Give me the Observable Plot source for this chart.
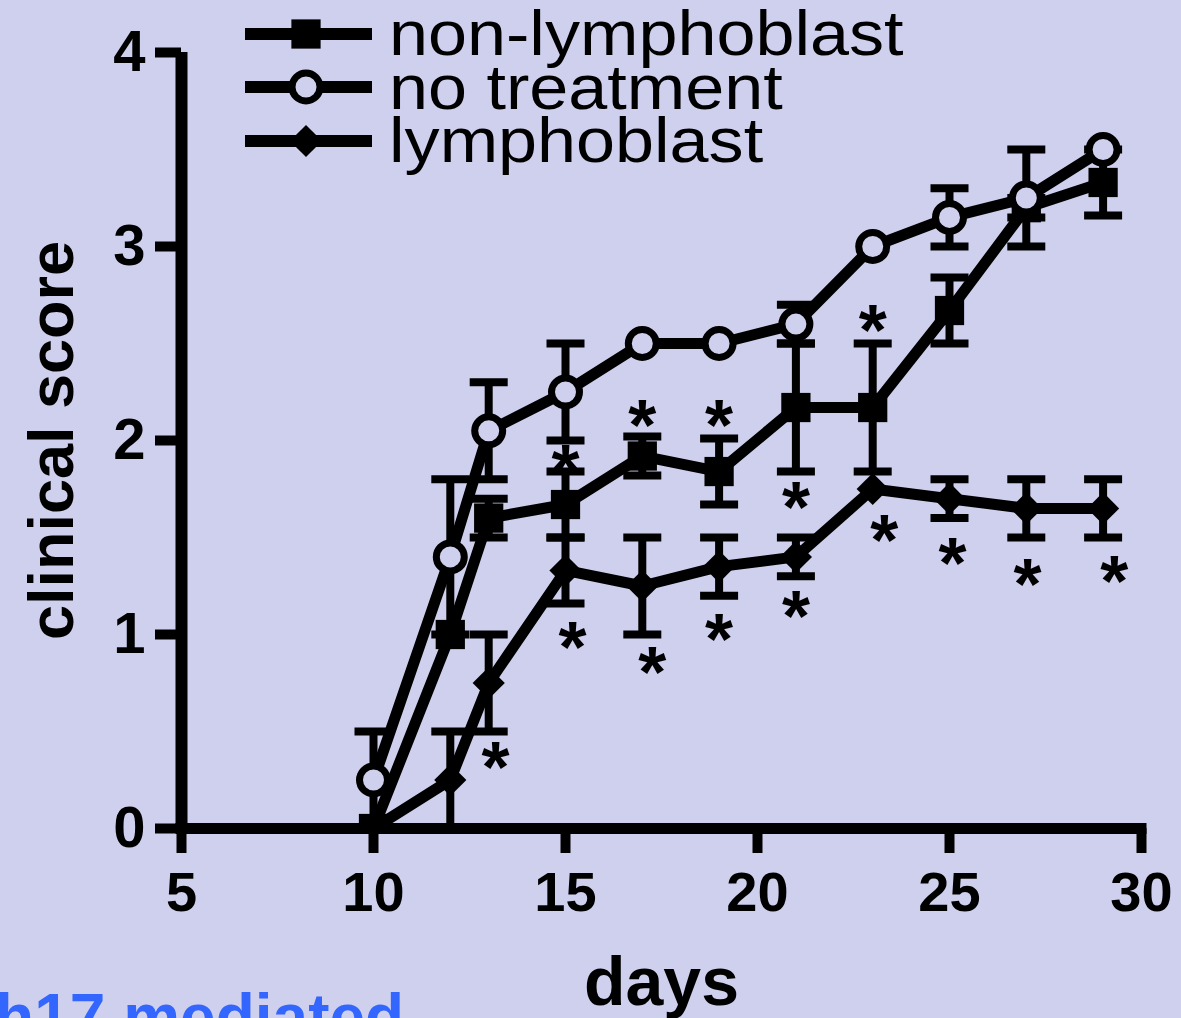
<!DOCTYPE html>
<html>
<head>
<meta charset="utf-8">
<script src="https://cdn.jsdelivr.net/npm/d3@7"></script>
<script src="https://cdn.jsdelivr.net/npm/@observablehq/plot@0.6"></script>
<style>
  html, body { margin: 0; padding: 0; }
  body { width: 1181px; height: 1018px; overflow: hidden; background: #cfd0ee; position: relative;
         font-family: "Liberation Sans", Arial, Helvetica, sans-serif; }
  #chart { position: absolute; left: 0; top: 0; }
  #legend { position: absolute; left: 245px; top: 7px; }
  .row { display: flex; align-items: center; height: 53.5px; }
  .row svg { display: block; flex: none; }
  .row span { display: inline-block; font-size: 63px; line-height: 53.5px; margin-left: 17px; color: #000;
              white-space: nowrap; transform: scaleX(1.113); transform-origin: left center; }
  #note { position: absolute; left: -44px; top: 985px; font-size: 64px; line-height: 64px; font-weight: bold;
          color: #3366ff; white-space: nowrap; }
</style>
</head>
<body>
<div id="chart"></div>
<div id="legend"></div>
<div id="note">Th17 mediated</div>
<script>
const bg = "#cfd0ee";

// Days of scoring
const days = [10, 12, 13, 15, 17, 19, 21, 23, 25, 27, 29];

// Mean clinical score and SEM per group
const nonLymphMean = [0, 1.0, 1.6, 1.67, 1.92, 1.84, 2.17, 2.17, 2.67, 3.2, 3.33];
const nonLymphSem  = [0, 0, 0.1, 0.17, 0.1, 0.17, 0.33, 0.33, 0.17, 0.05, 0.17];

const noTreatMean = [0.25, 1.4, 2.05, 2.25, 2.5, 2.5, 2.6, 3.0, 3.15, 3.25, 3.5];
const noTreatSem  = [0.25, 0.4, 0.25, 0.25, 0, 0, 0.1, 0, 0.15, 0.25, 0];

const lymphMean = [0, 0.25, 0.75, 1.33, 1.25, 1.35, 1.4, 1.75, 1.7, 1.65, 1.65];
const lymphSem  = [0, 0.25, 0.25, 0.17, 0.25, 0.15, 0.1, 0, 0.1, 0.15, 0.15];

// Significance markers, placed beside the points they annotate (day, score)
const starX = [13.18, 15, 15.18, 17, 17.26, 19, 19, 21, 21, 23, 23.3, 25.08, 27.03, 29.29];
const starY = [0.38, 1.91, 1.0, 2.14, 0.87, 2.14, 1.04, 1.72, 1.16, 2.63, 1.55, 1.43, 1.32, 1.34];

const xTicks = [5, 10, 15, 20, 25, 30];
const yTicks = [0, 1, 2, 3, 4];

const groups = [
  {name: "non-lymphoblast", mean: nonLymphMean, sem: nonLymphSem, symbol: "square"},
  {name: "no treatment", mean: noTreatMean, sem: noTreatSem, symbol: "circle"},
  {name: "lymphoblast", mean: lymphMean, sem: lymphSem, symbol: "diamond2"}
];

const rows = groups.flatMap(g => days.map((d, i) => ({group: g.name, day: d, mean: g.mean[i], sem: g.sem[i]})));
const stars = starX.map((d, i) => ({day: d, y: starY[i]}));

// Horizontal error-bar cap
const cap = {draw(ctx) { ctx.moveTo(-19, 0); ctx.lineTo(19, 0); }};

const markStyle = {
  square: {symbol: "square", r: 16.5, fill: "black"},
  circle: {symbol: "circle", r: 14, fill: bg, stroke: "black", strokeWidth: 7},
  diamond2: {symbol: "diamond2", r: 14.5, fill: "black"}
};

const seriesMarks = groups.flatMap(g => {
  const data = rows.filter(r => r.group === g.name);
  const err = data.filter(r => r.sem > 0);
  return [
    Plot.ruleX(err, {x: "day", y1: d => d.mean - d.sem, y2: d => d.mean + d.sem, stroke: "black", strokeWidth: 8, clip: true}),
    Plot.dot(err, {x: "day", y: d => d.mean + d.sem, symbol: cap, stroke: "black", strokeWidth: 8, fill: "none", clip: true}),
    Plot.dot(err, {x: "day", y: d => d.mean - d.sem, symbol: cap, stroke: "black", strokeWidth: 8, fill: "none", clip: true}),
    Plot.line(data, {x: "day", y: "mean", stroke: "black", strokeWidth: 11, strokeLinejoin: "miter", clip: true}),
    Plot.dot(data, {x: "day", y: "mean", ...markStyle[g.symbol], clip: true})
  ];
});

const chart = Plot.plot({
  width: 1181,
  height: 1018,
  marginLeft: 181,
  marginRight: 40,
  marginTop: 52,
  marginBottom: 190,
  style: {background: "transparent", fontFamily: "'Liberation Sans', Arial, Helvetica, sans-serif", fontWeight: "bold", color: "black"},
  x: {domain: [5, 30]},
  y: {domain: [0, 4]},
  marks: [
    ...seriesMarks,
    Plot.text(stars, {x: "day", y: "y", text: () => "*", fontSize: 72, fontWeight: "bold", dy: 14, fill: "black"}),
    Plot.axisY({ticks: yTicks, tickSize: 26, tickPadding: 10, fontSize: 58, strokeWidth: 10, label: null, tickFormat: d => String(d)}),
    Plot.axisX({ticks: xTicks, tickSize: 25, tickPadding: 18, fontSize: 56, strokeWidth: 10, label: null, tickFormat: d => String(d)}),
    Plot.ruleX([5], {stroke: "black", strokeWidth: 12}),
    Plot.ruleY([0], {stroke: "black", strokeWidth: 11, strokeLinecap: "square"}),
    Plot.text(["clinical score"], {frameAnchor: "left", textAnchor: "middle", lineAnchor: "middle", rotate: -90, dx: -129, fontSize: 63, fontWeight: "bold", fill: "black"}),
    Plot.text(["days"], {frameAnchor: "bottom", textAnchor: "middle", lineAnchor: "bottom", dy: 176, fontSize: 68, fontWeight: "bold", fill: "black"})
  ]
});
document.getElementById("chart").appendChild(chart);

// Legend rows: line with marker, then the group name
const legend = d3.select("#legend");
groups.forEach(g => {
  const row = legend.append("div").attr("class", "row");
  const svg = row.append("svg").attr("width", 127).attr("height", 54);
  svg.append("line").attr("x1", 0).attr("x2", 127).attr("y1", 27).attr("y2", 27)
    .attr("stroke", "black").attr("stroke-width", 12);
  const m = markStyle[g.symbol];
  const type = {square: d3.symbolSquare, circle: d3.symbolCircle, diamond2: d3.symbolDiamond2}[g.symbol];
  svg.append("path")
    .attr("transform", "translate(61,27)")
    .attr("d", d3.symbol(type, Math.PI * m.r * m.r)())
    .attr("fill", m.fill)
    .attr("stroke", m.stroke || "none")
    .attr("stroke-width", m.strokeWidth || 0);
  row.append("span").text(g.name);
});
</script>
</body>
</html>
